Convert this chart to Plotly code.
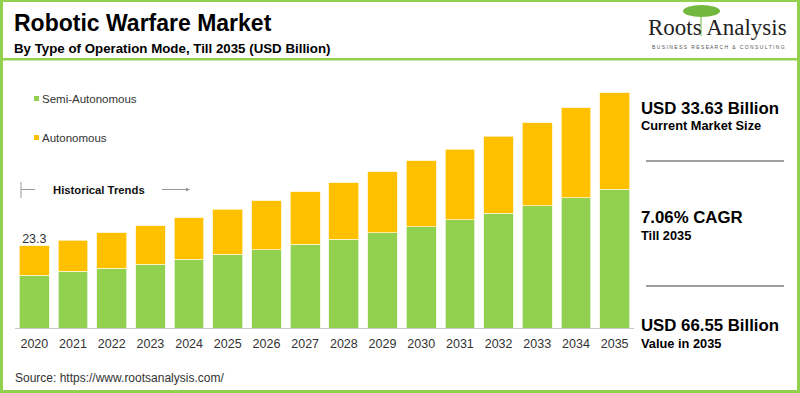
import plotly.graph_objects as go

years = [str(y) for y in range(2020, 2036)]
semi_autonomous = [14.9, 16.0, 16.9, 18.1, 19.5, 20.9, 22.1, 23.7, 25.1, 27.0, 28.6, 30.6, 32.5, 34.6, 36.9, 39.3]
totals = [23.3, 24.9, 26.9, 29.0, 31.2, 33.63, 36.0, 38.6, 41.1, 44.2, 47.3, 50.6, 54.3, 58.1, 62.3, 66.55]
autonomous = [round(t - s, 2) for t, s in zip(totals, semi_autonomous)]
label_years = [years[0]]
label_values = [totals[0]]

GREEN = "#92D050"
YELLOW = "#FFC000"
FONT = "Arial, Liberation Sans, sans-serif"

fig = go.Figure()
fig.add_trace(go.Bar(x=years, y=semi_autonomous, name="Semi-Autonomous",
                     marker=dict(color=GREEN, line=dict(color="#eef5e0", width=0.8))))
fig.add_trace(go.Bar(x=years, y=autonomous, name="Autonomous",
                     marker=dict(color=YELLOW, line=dict(color="#fff3c8", width=0.8))))
# data label on first bar
fig.add_trace(go.Scatter(x=label_years, y=label_values, mode="text",
                         text=[f"{v:.1f}" for v in label_values], textposition="top center",
                         textfont=dict(family=FONT, size=12.5, color="#333333"),
                         hoverinfo="skip"))

fig.update_layout(
    template="none",
    barmode="stack", bargap=0.23,
    width=800, height=393, autosize=False,
    margin=dict(l=15, r=166, t=63, b=65, pad=0),
    paper_bgcolor="white", plot_bgcolor="white",
    showlegend=False,
    xaxis=dict(type="category", categoryorder="array", categoryarray=years,
               range=[-0.5, len(years) - 0.5], automargin=False,
               showgrid=False, zeroline=False, ticks="", showline=True, linecolor="#c8c8c8",
               linewidth=1, ticklabelstandoff=4,
               tickfont=dict(family=FONT, size=12.5, color="#333333")),
    yaxis=dict(range=[0, 75], visible=False, showgrid=False, automargin=False, zeroline=False),
)

PW = 800 - 15 - 166
PH = 393 - 63 - 65

def fx(x):
    return (x - 15) / PW

def fy(y):
    return (393 - 65 - y) / PH

def px_rect(x0, y0, x1, y1, color):
    return dict(type="rect", xref="paper", yref="paper",
                x0=fx(x0), x1=fx(x1), y0=fy(y0), y1=fy(y1),
                fillcolor=color, line=dict(width=0), layer="above")

def px_line(x0, y0, x1, y1, color, width=1):
    return dict(type="line", xref="paper", yref="paper",
                x0=fx(x0), x1=fx(x1), y0=fy(y0), y1=fy(y1),
                line=dict(color=color, width=width), layer="above")

shapes = [
    px_rect(0, 0, 3, 393, GREEN),
    px_rect(797, 0, 800, 393, GREEN),
    px_rect(0, 0, 800, 2, GREEN),
    px_rect(0, 390, 800, 393, GREEN),
    px_rect(0, 58, 800, 60.5, GREEN),
    # legend squares
    px_rect(34, 96, 39, 101, GREEN),
    px_rect(34, 135, 39, 140, YELLOW),
    # historical trends bracket
    px_line(21, 182, 21, 198, "#9a9a9a"),
    px_line(21, 189.5, 35, 189.5, "#9a9a9a"),
    px_line(162, 189.5, 186, 189.5, "#9a9a9a"),
    # right panel separators
    px_line(646, 161, 784, 161, "#7f7f7f", 1.5),
    px_line(646, 286, 784, 286, "#7f7f7f", 1.5),
    # logo tree (approx)
    px_line(701, 14, 701, 36, "#9fcf7a", 1.5),
    dict(type="circle", xref="paper", yref="paper",
         x0=fx(683), x1=fx(720), y0=fy(17), y1=fy(5),
         fillcolor="#72b83e", line=dict(width=0), layer="above"),
]
fig.update_layout(shapes=shapes)

def px_text(x, y, text, size, color="#000000", bold=False, xanchor="left", family=FONT):
    fig.add_annotation(xref="paper", yref="paper", x=fx(x), y=fy(y),
                       text=f"<b>{text}</b>" if bold else text,
                       showarrow=False, xanchor=xanchor, yanchor="middle",
                       font=dict(family=family, size=size, color=color))

# arrowhead for historical trends
fig.add_annotation(xref="paper", yref="paper", x=fx(190), y=fy(189.5),
                   axref="pixel", ayref="pixel", ax=-8, ay=0, text="", showarrow=True,
                   arrowhead=2, arrowsize=0.8, arrowwidth=1, arrowcolor="#9a9a9a")

px_text(12, 23, "Robotic Warfare Market", 23, bold=True)
px_text(12, 48, "By Type of Operation Mode, Till 2035 (USD Billion)", 13.3, bold=True)
px_text(40, 98.5, "Semi-Autonomous", 11.5, color="#333333")
px_text(40, 137.5, "Autonomous", 11.5, color="#333333")
px_text(51, 189.5, "Historical Trends", 11.3, color="#111111", bold=True)
px_text(13, 378, "Source: https://www.rootsanalysis.com/", 12, color="#333333")

px_text(639, 108, "USD 33.63 Billion", 16.8, bold=True)
px_text(639, 126, "Current Market Size", 12.8, bold=True)
px_text(639, 217, "7.06% CAGR", 16.8, bold=True)
px_text(639, 235, "Till 2035", 12.8, bold=True)
px_text(639, 325, "USD 66.55 Billion", 16.8, bold=True)
px_text(639, 343, "Value in 2035", 12.8, bold=True)

px_text(717, 27, "Roots Analysis", 23, color="#222222", xanchor="center",
        family="Liberation Serif, Times New Roman, serif")
px_text(718, 47, "B U S I N E S S   R E S E A R C H   &   C O N S U L T I N G", 5,
        color="#555555", xanchor="center")

post = ("document.body.style.margin='0';document.body.style.padding='0';"
        "document.body.style.overflow='hidden';"
        "var d=document.getElementById('{plot_id}');"
        "d.style.position='absolute';d.style.left='0px';d.style.top='0px';")
fig.write_html("out.html", post_script=post, config={"displayModeBar": False})
